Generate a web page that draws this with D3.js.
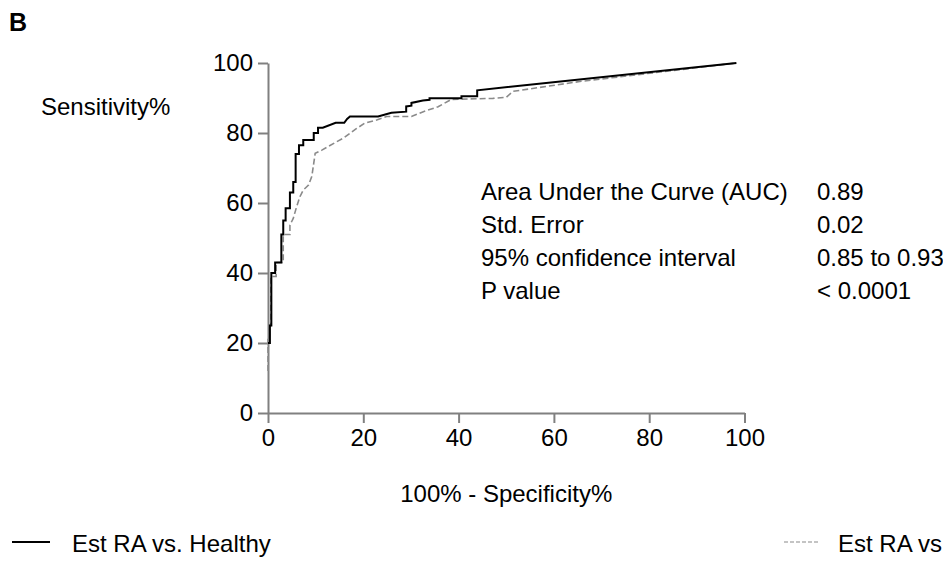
<!DOCTYPE html>
<html>
<head>
<meta charset="utf-8">
<script src="https://cdn.jsdelivr.net/npm/d3@7"></script>
<style>
  body { margin: 0; background: #fff; }
  svg { display: block; font-family: Arial, "Liberation Sans", sans-serif; }
</style>
</head>
<body>
<div id="chart"></div>
<script>
var width = 943;
var height = 584;

// Est RA vs. Healthy (solid), [100% - specificity, sensitivity]
var healthyRoc = [
  [0, 20], [0.4, 20], [0.4, 25], [0.7, 25], [0.7, 40], [1.5, 40], [1.5, 43], [2.8, 43],
  [2.8, 51], [3.2, 51], [3.2, 55], [3.7, 55], [3.7, 58.5], [4.6, 58.5], [4.6, 63], [5.3, 63],
  [5.3, 66], [5.8, 66], [5.8, 74], [6.5, 74], [6.5, 76.5], [7.4, 76.5], [7.4, 78], [9.6, 78],
  [9.6, 80], [10.5, 80], [10.5, 81.5], [11.5, 81.5], [14.2, 82.9], [16, 82.9], [16.6, 84],
  [17.2, 84.7], [23.1, 84.7], [25.9, 85.8], [29, 86.1], [29, 87.6], [30.1, 87.8], [30.1, 88.6],
  [32.5, 89.3], [33.9, 89.5], [33.9, 89.9], [40.6, 89.9], [40.6, 90.5], [43.9, 90.5],
  [43.9, 92.2], [98.3, 100]
];

// second comparison (dashed)
var otherRoc = [
  [0, 12], [0, 21], [0.3, 21], [0.3, 25], [0.6, 25], [0.6, 39], [1.7, 39], [1.7, 43],
  [3.2, 43], [3.2, 51], [4.6, 51], [4.6, 53.7], [5.3, 55.6], [6.0, 58.9], [6.7, 61.8],
  [7.4, 63.7], [8.5, 65.1], [9.2, 67.6], [9.9, 74.2], [11.3, 75.1], [12.6, 76.1],
  [14.4, 77.5], [15.8, 78.5], [17.2, 79.9], [18.6, 81.3], [20.3, 82.8], [22.8, 83.7],
  [24.9, 84.7], [30.1, 84.7], [32.6, 86.1], [35.7, 87.5], [38.5, 89.6], [47.2, 89.9],
  [50, 90.2], [51.4, 91.9], [58.4, 93.3], [65.4, 94.7], [98.3, 100]
];

var ticks = [0, 20, 40, 60, 80, 100];

var statLabels = ["Area Under the Curve (AUC)", "Std. Error", "95% confidence interval", "P value"];
var statValues = ["0.89", "0.02", "0.85 to 0.93", "< 0.0001"];

var legendLabels = ["Est RA vs. Healthy", "Est RA vs"];

var x = d3.scaleLinear().domain([0, 100]).range([268, 744.5]);
var y = d3.scaleLinear().domain([0, 100]).range([413, 63]);

var svg = d3.select("#chart")
  .append("svg")
  .attr("width", width)
  .attr("height", height);

// panel letter
svg.append("text")
  .attr("x", 9)
  .attr("y", 31)
  .attr("font-size", 25)
  .attr("font-weight", "bold")
  .text("B");

var line = d3.line()
  .x(function(d) { return x(d[0]); })
  .y(function(d) { return y(d[1]); });

// axes
var yAxis = svg.append("g")
  .attr("transform", "translate(" + x(0) + ",0)")
  .call(d3.axisLeft(y).tickValues(ticks).tickSize(10).tickSizeOuter(0).tickPadding(5));

var xAxis = svg.append("g")
  .attr("transform", "translate(0," + y(0) + ")")
  .call(d3.axisBottom(x).tickValues(ticks).tickSize(10).tickSizeOuter(0).tickPadding(6));

[yAxis, xAxis].forEach(function(g) {
  g.selectAll("path, line").attr("stroke", "#808080").attr("stroke-width", 2);
  g.selectAll("text").attr("font-size", 24).attr("fill", "#000")
    .attr("font-family", "Arial, 'Liberation Sans', sans-serif");
});

// curves
svg.append("path")
  .datum(otherRoc)
  .attr("d", line)
  .attr("fill", "none")
  .attr("stroke", "#8a8a8a")
  .attr("stroke-width", 1.6)
  .attr("stroke-dasharray", "6,3");

svg.append("path")
  .datum(healthyRoc)
  .attr("d", line)
  .attr("fill", "none")
  .attr("stroke", "#000")
  .attr("stroke-width", 2);

// axis titles
svg.append("text")
  .attr("x", 41)
  .attr("y", 115)
  .attr("font-size", 24)
  .text("Sensitivity%");

svg.append("text")
  .attr("x", (x(0) + x(100)) / 2)
  .attr("y", 502)
  .attr("text-anchor", "middle")
  .attr("font-size", 24)
  .text("100% - Specificity%");

// stats table
svg.selectAll(".stat-label")
  .data(statLabels)
  .enter()
  .append("text")
  .attr("class", "stat-label")
  .attr("x", 481)
  .attr("y", function(d, i) { return 200 + i * 33; })
  .attr("font-size", 24)
  .text(function(d) { return d; });

svg.selectAll(".stat-value")
  .data(statValues)
  .enter()
  .append("text")
  .attr("class", "stat-value")
  .attr("x", 817)
  .attr("y", function(d, i) { return 200 + i * 33; })
  .attr("font-size", 24)
  .text(function(d) { return d; });

// legend
svg.append("line")
  .attr("x1", 12).attr("x2", 50)
  .attr("y1", 542).attr("y2", 542)
  .attr("stroke", "#000")
  .attr("stroke-width", 2);

svg.append("text")
  .attr("x", 72)
  .attr("y", 552)
  .attr("font-size", 24)
  .text(legendLabels[0]);

svg.append("line")
  .attr("x1", 784).attr("x2", 820)
  .attr("y1", 542).attr("y2", 542)
  .attr("stroke", "#8a8a8a")
  .attr("stroke-width", 1.2)
  .attr("stroke-dasharray", "4,2");

svg.append("text")
  .attr("x", 838)
  .attr("y", 552)
  .attr("font-size", 24)
  .text(legendLabels[1]);
</script>
</body>
</html>
